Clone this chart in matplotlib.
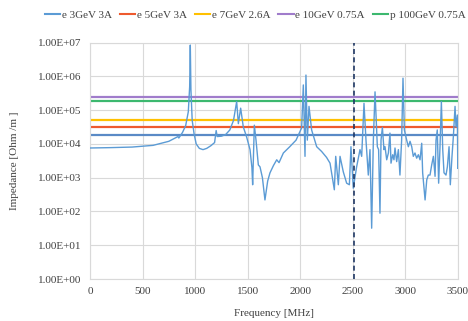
import matplotlib
matplotlib.use("Agg")
import matplotlib.pyplot as plt
from matplotlib.ticker import FixedLocator, FuncFormatter

# --- data ---
freq = [0, 200, 400, 600, 750, 837, 845, 880, 910, 935, 948, 954, 960, 972, 990,
        1010, 1040, 1075, 1110, 1150, 1185, 1200, 1210, 1250, 1290, 1330, 1365,
        1395, 1411, 1433, 1458, 1490, 1522, 1540, 1547, 1563, 1579, 1601, 1617,
        1640, 1664, 1690, 1712, 1745, 1776, 1798, 1839, 1900, 1960, 2013, 2029,
        2045, 2054, 2067, 2083, 2108, 2156, 2203, 2250, 2283, 2324, 2337, 2346,
        2362, 2378, 2409, 2441, 2467, 2482, 2504, 2536, 2568, 2584, 2606, 2625,
        2647, 2663, 2679, 2695, 2711, 2733, 2745, 2758, 2768, 2781, 2796, 2806,
        2822, 2838, 2853, 2863, 2879, 2891, 2901, 2917, 2933, 2948, 2964, 2977,
        2990, 3012, 3028, 3044, 3060, 3075, 3091, 3107, 3123, 3139, 3155, 3164,
        3177, 3187, 3203, 3218, 3234, 3250, 3266, 3282, 3291, 3303, 3316, 3329,
        3342, 3355, 3367, 3386, 3399, 3415, 3427, 3443, 3456, 3472, 3481, 3494,
        3498, 3500]
impedance = [7.6e3, 7.8e3, 8.1e3, 9.1e3, 1.2e4, 1.66e4, 1.5e4, 2.2e4, 3.5e4, 9e4,
             5e5, 8.5e6, 4e5, 5e4, 2e4, 1e4, 7.4e3, 6.8e3, 7.4e3, 8.9e3, 1.1e4,
             2.5e4, 1.66e4, 1.7e4, 1.9e4, 2.6e4, 5e4, 1.8e5, 4e4, 1.15e5, 3.2e4,
             1.6e4, 6.8e3, 2e3, 6.2e2, 3.6e4, 1.3e4, 2.4e3, 2.1e3, 1e3, 2.2e2,
             8e2, 1.4e3, 2.3e3, 3.4e3, 2.8e3, 5.4e3, 8.3e3, 1.3e4, 3e4, 5.6e5,
             4.3e3, 1.1e6, 1.3e4, 1.3e5, 2.6e4, 8.3e3, 6e3, 4e3, 2.7e3, 4.4e2,
             4.3e3, 2.1e3, 6.2e2, 4.3e3, 1.5e3, 6.9e2, 6.2e2, 8.3e3, 4.9e2, 2.1e3,
             6.8e3, 4.3e3, 1.6e5, 1.3e4, 1.2e3, 6.8e3, 32, 1.3e4, 3.5e5, 8.3e3,
             6.8e3, 89, 1.3e4, 3.1e4, 6.8e3, 8.3e3, 3.4e3, 5.4e3, 2.1e4, 2.7e3,
             4.8e3, 3.4e3, 7.6e3, 3e3, 6.8e3, 1.2e3, 1.3e4, 8.9e5, 2.6e4, 1.3e4,
             8.3e3, 1.2e4, 8.3e3, 4.3e3, 5.4e3, 3.8e3, 4.8e3, 3.4e3, 1.05e4, 1.4e3,
             4.9e2, 2.2e2, 8.7e2, 1.2e3, 1.2e3, 2.4e3, 4.3e3, 1.1e3, 1.3e4, 2.6e4,
             6.9e2, 8.3e3, 1.8e5, 6.8e3, 1.4e3, 1.2e3, 2.1e3, 8.3e3, 6.2e2, 4.3e3,
             1.66e4, 1.3e5, 3.2e4, 7.2e4, 1.9e3, 6e3]

# threshold levels for each beam
beam_labels = ["e 3GeV 3A", "e 5GeV 3A", "e 7GeV 2.6A", "e 10GeV 0.75A", "p 100GeV 0.75A"]
beam_levels = [1.86e4, 3.2e4, 5.1e4, 2.5e5, 1.9e5]
beam_colors = ["#5B9BD5", "#EE5A2E", "#FFC000", "#A07CCB", "#3CB86F"]

f_range = [0, 3500]
f_cut = 2510

plt.rcParams["font.family"] = ["Liberation Serif", "DejaVu Serif"]
plt.rcParams["font.size"] = 8

fig = plt.figure(figsize=(4.68, 3.21), dpi=100)
ax = fig.add_axes([0.1923, 0.1308, 0.7863, 0.7362])

# horizontal threshold lines (first one is the darker blue, unlabeled in legend)
ax.plot(f_range, [beam_levels[0]] * 2, color="#5A8AC6", lw=1.6, zorder=2)
for lab, lev, col in zip(beam_labels[1:], beam_levels[1:], beam_colors[1:]):
    ax.plot(f_range, [lev, lev], color=col, lw=1.6, zorder=2)

ax.plot(freq, impedance, color=beam_colors[0], lw=1.0, zorder=3)
ax.axvline(f_cut, color="#1F3864", lw=1.2, ls=(0, (3, 2)), zorder=4)

# legend handles
handles = []
for lab, col in zip(beam_labels, beam_colors):
    h, = ax.plot([], [], color=col, lw=1.5, label=lab)
    handles.append(h)
fig.legend(handles=handles, loc="upper center", bbox_to_anchor=(0.545, 1.0),
           ncol=5, frameon=False, handlelength=1.4, handletextpad=0.15,
           columnspacing=0.7, fontsize=8, labelcolor="#404040")

ax.set_yscale("log")
ax.set_xlim(0, 3500)
ax.set_ylim(1, 1e7)
ax.xaxis.set_major_locator(FixedLocator(range(0, 3501, 500)))
ax.yaxis.set_major_locator(FixedLocator([10.0 ** k for k in range(0, 8)]))
ax.yaxis.set_minor_locator(FixedLocator([]))
ax.yaxis.set_major_formatter(FuncFormatter(lambda v, p: "%.2E" % v))
ax.tick_params(length=0, pad=6, colors="#404040")
ax.grid(True, color="#D9D9D9", lw=0.8)
ax.set_axisbelow(True)
for s in ax.spines.values():
    s.set_color("#D9D9D9")
    s.set_linewidth(0.8)

ax.set_xlabel("Frequency [MHz]", color="#404040", labelpad=9)
ax.set_ylabel("Impedance [Ohm /m ]", color="#404040", labelpad=14)

fig.savefig("out.png", dpi=100)
